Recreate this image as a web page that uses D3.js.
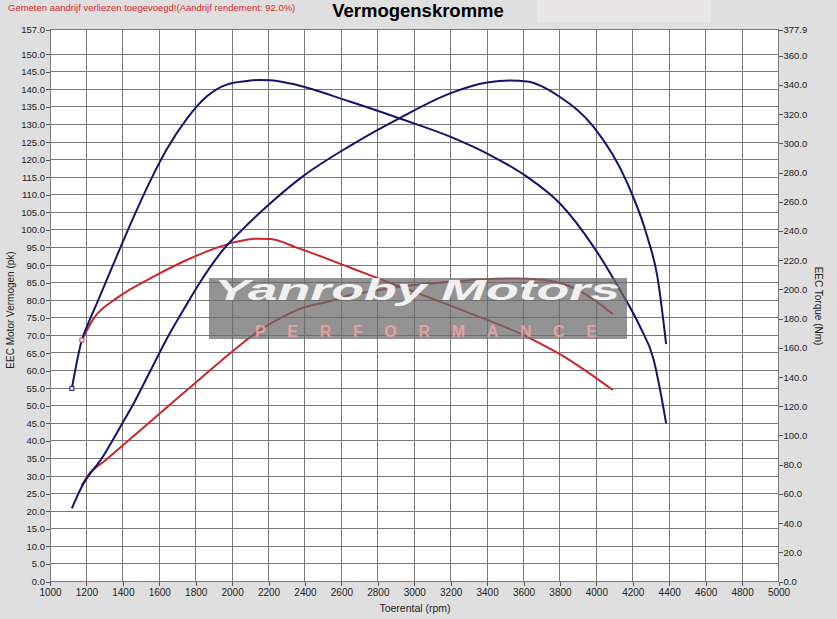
<!DOCTYPE html>
<html lang="nl">
<head>
<meta charset="utf-8">
<title>Vermogenskromme</title>
<script src="https://d3js.org/d3.v7.min.js"></script>
<style>
  body { margin: 0; background: #dfdfdf; }
  svg { display: block; font-family: "Liberation Sans", Arial, sans-serif; }
</style>
</head>
<body>
<script>
// getunede meting (blauw)
var rpmPowerTuned = [1120, 1175, 1290, 1395, 1460, 1550, 1640, 1730, 1825, 1950, 2060, 2210, 2390, 2650, 2920, 3200, 3400, 3530, 3620, 3800, 3985, 4170, 4280, 4335, 4383];
var pkTuned       = [20.8, 27.0, 35.5, 44.8, 50.7, 59.8, 68.9, 77.0, 85.2, 94.3, 100.3, 107.6, 115.3, 124.0, 131.8, 138.9, 141.9, 142.5, 142.2, 137.8, 129.3, 113.3, 98.0, 86.7, 67.5];

var rpmTorqueTuned = [1120, 1175, 1210, 1265, 1365, 1460, 1550, 1640, 1750, 1860, 1970, 2080, 2150, 2210, 2320, 2650, 2920, 3200, 3400, 3620, 3800, 3985, 4130, 4240, 4315, 4350, 4383];
var nmTuned        = [132.2, 165.3, 176.7, 192.6, 222.3, 249.8, 274.1, 295.7, 316.6, 332.0, 340.2, 342.6, 343.4, 343.2, 340.9, 328.4, 317.0, 304.4, 293.0, 277.0, 258.8, 229.1, 199.5, 174.4, 151.6, 131.1, 108.3];

// standaard meting (rood)
var rpmPowerStock = [1175, 1210, 1300, 1485, 1760, 1945, 2050, 2125, 2265, 2375, 2540, 2650, 2815, 3000, 3180, 3360, 3545, 3700, 3820, 3950, 4090];
var pkStock       = [27.4, 30.3, 34.3, 42.5, 54.8, 63.0, 67.5, 70.5, 74.9, 77.6, 79.8, 81.5, 83.0, 84.3, 85.2, 85.9, 86.2, 85.8, 84.6, 81.4, 76.1];

var rpmTorqueStock = [1175, 1240, 1365, 1550, 1730, 1880, 2005, 2135, 2210, 2355, 2650, 2815, 2995, 3290, 3620, 3765, 3840, 3950, 4090];
var nmStock        = [165.3, 180.1, 193.8, 207.5, 218.9, 226.9, 232.0, 234.7, 234.4, 228.6, 214.8, 206.9, 198.5, 184.4, 167.5, 158.0, 152.6, 143.5, 131.1];

// as-ticks
var rpmTicks = d3.range(1000, 5001, 200);
var pkTicks = d3.range(0, 151, 5).concat([157]);
var nmTicks = d3.range(0, 361, 20).concat([377.9]);

var width = 837, height = 619;

var svg = d3.select("body").append("svg")
    .attr("width", width)
    .attr("height", height);

svg.append("rect")
    .attr("width", width).attr("height", height)
    .attr("fill", "#dfdfdf");

svg.append("rect")
    .attr("x", 537).attr("y", 0)
    .attr("width", 174).attr("height", 22)
    .attr("fill", "#e8e6e6");

var x = d3.scaleLinear().domain([1000, 5000]).range([50, 778.5]);
var yPk = d3.scaleLinear().domain([0, 157]).range([581.5, 29.5]);
var yNm = d3.scaleLinear().domain([0, 377.9]).range([581.5, 29.5]);

// plot achtergrond
svg.append("rect")
    .attr("x", x(1000)).attr("y", yPk(157))
    .attr("width", x(5000) - x(1000))
    .attr("height", yPk(0) - yPk(157))
    .attr("fill", "#fff");

// raster
var grid = svg.append("g")
    .attr("stroke", "#7a7a7a")
    .attr("stroke-width", 1)
    .attr("shape-rendering", "crispEdges");

grid.selectAll(".v").data(rpmTicks).enter().append("line")
    .attr("x1", function(d) { return x(d); })
    .attr("x2", function(d) { return x(d); })
    .attr("y1", yPk(0)).attr("y2", yPk(157));

grid.selectAll(".h").data(pkTicks).enter().append("line")
    .attr("x1", x(1000)).attr("x2", x(5000))
    .attr("y1", function(d) { return yPk(d); })
    .attr("y2", function(d) { return yPk(d); });

// assen
function styleAxis(g) {
    g.select(".domain").remove();
    g.selectAll("line").attr("stroke", "#555").attr("shape-rendering", "crispEdges");
    g.selectAll("text").attr("fill", "#222").style("font-size", "9.5px")
        .style("font-family", "\"Liberation Sans\", Arial, sans-serif");
}

svg.append("g")
    .attr("transform", "translate(" + x(1000) + ",0)")
    .call(d3.axisLeft(yPk).tickValues(pkTicks).tickFormat(d3.format(".1f")).tickSize(4).tickPadding(1))
    .call(styleAxis);

svg.append("g")
    .attr("transform", "translate(" + x(5000) + ",0)")
    .call(d3.axisRight(yNm).tickValues(nmTicks).tickFormat(d3.format(".1f")).tickSize(4).tickPadding(1))
    .call(styleAxis);

svg.append("g")
    .attr("transform", "translate(0," + yPk(0) + ")")
    .call(d3.axisBottom(x).tickValues(rpmTicks).tickFormat(d3.format("d")).tickSize(4).tickPadding(3))
    .call(styleAxis)
    .selectAll("text").style("font-size", "10px");

// curves
var linePk = d3.line()
    .x(function(d) { return x(d[0]); })
    .y(function(d) { return yPk(d[1]); })
    .curve(d3.curveMonotoneX);

var lineNm = d3.line()
    .x(function(d) { return x(d[0]); })
    .y(function(d) { return yNm(d[1]); })
    .curve(d3.curveMonotoneX);

var series = [
    { rpm: rpmPowerStock, val: pkStock, line: linePk, color: "#c9262c" },
    { rpm: rpmTorqueStock, val: nmStock, line: lineNm, color: "#c9262c" },
    { rpm: rpmPowerTuned, val: pkTuned, line: linePk, color: "#14146e" },
    { rpm: rpmTorqueTuned, val: nmTuned, line: lineNm, color: "#14146e" }
];

series.forEach(function(s) {
    var pts = s.rpm.map(function(r, i) { return [r, s.val[i]]; });
    svg.append("path")
        .attr("d", s.line(pts))
        .attr("fill", "none")
        .attr("stroke", s.color)
        .attr("stroke-width", 2)
        .attr("stroke-linejoin", "round");
});

// kleine markers aan het begin van de koppelcurves
[[rpmTorqueTuned[0], nmTuned[0], "#14146e"], [rpmTorqueStock[0], nmStock[0], "#d04050"]].forEach(function(m) {
    svg.append("rect")
        .attr("x", x(m[0]) - 2).attr("y", yNm(m[1]) - 2)
        .attr("width", 4).attr("height", 4)
        .attr("fill", "#fff").attr("stroke", m[2]).attr("stroke-width", 1);
});

// watermerk
var wm = svg.append("g");
wm.append("rect")
    .attr("x", 209).attr("y", 278)
    .attr("width", 418).attr("height", 61)
    .attr("fill", "#6a6a6a")
    .attr("opacity", 0.72);
wm.append("text")
    .attr("x", 214).attr("y", 300)
    .attr("textLength", 406)
    .attr("lengthAdjust", "spacingAndGlyphs")
    .attr("fill", "#fff")
    .attr("opacity", 0.88)
    .style("font-size", "30px")
    .style("font-weight", "bold")
    .style("font-style", "italic")
    .text("Yanroby Motors");
wm.append("text")
    .attr("x", 255).attr("y", 337)
    .attr("textLength", 342)
    .attr("lengthAdjust", "spacing")
    .attr("fill", "#f6a3a3")
    .attr("opacity", 0.85)
    .style("font-size", "16px")
    .style("font-weight", "bold")
    .text("PERFORMANCE");

// teksten
svg.append("text")
    .attr("x", 8).attr("y", 11)
    .attr("fill", "#d42a2a")
    .style("font-size", "9.5px")
    .text("Gemeten aandrijf verliezen toegevoegd!(Aandrijf rendement: 92.0%)");

svg.append("text")
    .attr("x", 418).attr("y", 17)
    .attr("text-anchor", "middle")
    .attr("fill", "#000")
    .style("font-size", "18.5px")
    .style("font-weight", "bold")
    .text("Vermogenskromme");

svg.append("text")
    .attr("x", 415).attr("y", 612)
    .attr("text-anchor", "middle")
    .attr("fill", "#222")
    .style("font-size", "10.5px")
    .text("Toerental (rpm)");

svg.append("text")
    .attr("transform", "translate(14,310) rotate(-90)")
    .attr("text-anchor", "middle")
    .attr("fill", "#222")
    .style("font-size", "10px")
    .text("EEC Motor Vermogen (pk)");

svg.append("text")
    .attr("transform", "translate(815,306) rotate(90)")
    .attr("text-anchor", "middle")
    .attr("fill", "#222")
    .style("font-size", "10px")
    .text("EEC Torque (Nm)");
</script>
</body>
</html>
